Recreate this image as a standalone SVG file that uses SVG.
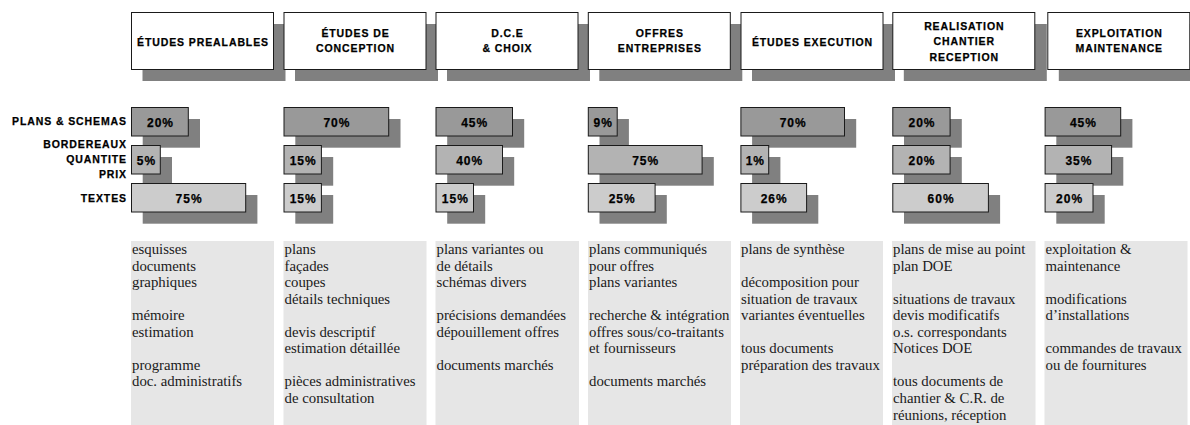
<svg xmlns="http://www.w3.org/2000/svg" width="1190" height="425" viewBox="0 0 1190 425">
<style>
.bg{fill:#ffffff}
.sh{fill:#808080}
.hb{fill:#ffffff;stroke:#1a1a1a;stroke-width:1}
.ht{font-family:"Liberation Sans",Arial,sans-serif;font-weight:bold;font-size:10.5px;letter-spacing:0.9px;fill:#000;stroke:#000;stroke-width:0.25;text-anchor:middle}
.lb{font-family:"Liberation Sans",Arial,sans-serif;font-weight:bold;font-size:10.5px;letter-spacing:0.9px;fill:#000;stroke:#000;stroke-width:0.25;text-anchor:end}
.b1{fill:#999999;stroke:#1a1a1a;stroke-width:1}
.b2{fill:#b3b3b3;stroke:#1a1a1a;stroke-width:1}
.b3{fill:#cccccc;stroke:#1a1a1a;stroke-width:1}
.bt{font-family:"Liberation Sans",Arial,sans-serif;font-weight:bold;font-size:12px;letter-spacing:1px;fill:#000;stroke:#000;stroke-width:0.25;text-anchor:middle}
.tb{fill:#e6e6e6}
.tx{font-family:"Liberation Serif","Times New Roman",serif;font-size:14.8px;fill:#1a1a1a}
</style>
<rect class="bg" x="0" y="0" width="1190" height="425"/>

<!-- header shadows -->
<g id="header-shadows">
<rect class="sh" x="142.5" y="24" width="143" height="57"/>
<rect class="sh" x="295" y="24" width="143" height="57"/>
<rect class="sh" x="447" y="24" width="143" height="57"/>
<rect class="sh" x="599.3" y="24" width="143" height="57"/>
<rect class="sh" x="752" y="24" width="143" height="57"/>
<rect class="sh" x="903.8" y="24" width="143" height="57"/>
<rect class="sh" x="1058.8" y="24" width="143" height="57"/>
</g>

<g id="h1">
<rect class="hb" x="131.5" y="12.5" width="142" height="57"/>
<text class="ht" x="203" y="45.5">ÉTUDES PREALABLES</text>
</g>
<g id="h2">
<rect class="hb" x="284" y="12.5" width="142" height="57"/>
<text class="ht" x="355.5" y="37">ÉTUDES DE</text>
<text class="ht" x="355.5" y="52.3">CONCEPTION</text>
</g>
<g id="h3">
<rect class="hb" x="436" y="12.5" width="142" height="57"/>
<text class="ht" x="507.5" y="37">D.C.E</text>
<text class="ht" x="507.5" y="52.3">&amp; CHOIX</text>
</g>
<g id="h4">
<rect class="hb" x="588.3" y="12.5" width="142" height="57"/>
<text class="ht" x="659.8" y="37">OFFRES</text>
<text class="ht" x="659.8" y="52.3">ENTREPRISES</text>
</g>
<g id="h5">
<rect class="hb" x="741" y="12.5" width="142" height="57"/>
<text class="ht" x="812.5" y="45.5">ÉTUDES EXECUTION</text>
</g>
<g id="h6">
<rect class="hb" x="892.8" y="12.5" width="142" height="57"/>
<text class="ht" x="964.3" y="29.5">REALISATION</text>
<text class="ht" x="964.3" y="45.3">CHANTIER</text>
<text class="ht" x="964.3" y="60.8">RECEPTION</text>
</g>
<g id="h7">
<rect class="hb" x="1047.8" y="12.5" width="142" height="57"/>
<text class="ht" x="1119.3" y="37">EXPLOITATION</text>
<text class="ht" x="1119.3" y="52.3">MAINTENANCE</text>
</g>

<!-- row labels -->
<g id="row-labels">
<text class="lb" x="127" y="125.2">PLANS &amp; SCHEMAS</text>
<text class="lb" x="127" y="147.8">BORDEREAUX</text>
<text class="lb" x="127" y="163.3">QUANTITE</text>
<text class="lb" x="127" y="178.4">PRIX</text>
<text class="lb" x="127" y="202.3">TEXTES</text>
</g>

<!-- bar shadows -->
<g id="bar-shadows">
<rect class="sh" x="142.7" y="119" width="57.3" height="28.7"/>
<rect class="sh" x="142.7" y="157" width="29.3" height="28.7"/>
<rect class="sh" x="142.7" y="195" width="114.7" height="28.7"/>

<rect class="sh" x="295.3" y="119" width="105.2" height="28.7"/>
<rect class="sh" x="295.3" y="157" width="37.9" height="28.7"/>
<rect class="sh" x="295.3" y="195" width="37.9" height="28.7"/>

<rect class="sh" x="447.2" y="119" width="77" height="28.7"/>
<rect class="sh" x="447.2" y="157" width="67" height="28.7"/>
<rect class="sh" x="447.2" y="195" width="38" height="28.7"/>

<rect class="sh" x="599.5" y="119" width="29.4" height="28.7"/>
<rect class="sh" x="599.5" y="157" width="114.3" height="28.7"/>
<rect class="sh" x="599.5" y="195" width="67.3" height="28.7"/>

<rect class="sh" x="752.1" y="119" width="104.1" height="28.7"/>
<rect class="sh" x="752.1" y="157" width="28.3" height="28.7"/>
<rect class="sh" x="752.1" y="195" width="66.2" height="28.7"/>

<rect class="sh" x="904" y="119" width="57.8" height="28.7"/>
<rect class="sh" x="904" y="157" width="57.8" height="28.7"/>
<rect class="sh" x="904" y="195" width="96.1" height="28.7"/>

<rect class="sh" x="1056.3" y="119" width="76.1" height="28.7"/>
<rect class="sh" x="1056.3" y="157" width="67" height="28.7"/>
<rect class="sh" x="1056.3" y="195" width="48.4" height="28.7"/>
</g>

<g id="bars-1">
<rect class="b1" x="131.5" y="107.5" width="56.8" height="28.5"/>
<text class="bt" x="160.5" y="126.8">20%</text>
<rect class="b2" x="131.5" y="145.5" width="28.8" height="28.5"/>
<text class="bt" x="146.4" y="164.8">5%</text>
<rect class="b3" x="131.5" y="183.5" width="114.2" height="28.5"/>
<text class="bt" x="189.1" y="202.8">75%</text>
</g>
<g id="bars-2">
<rect class="b1" x="284" y="107.5" width="104.7" height="28.5"/>
<text class="bt" x="336.9" y="126.8">70%</text>
<rect class="b2" x="284" y="145.5" width="37.4" height="28.5"/>
<text class="bt" x="303.2" y="164.8">15%</text>
<rect class="b3" x="284" y="183.5" width="37.4" height="28.5"/>
<text class="bt" x="303.2" y="202.8">15%</text>
</g>
<g id="bars-3">
<rect class="b1" x="436" y="107.5" width="76.5" height="28.5"/>
<text class="bt" x="474.7" y="126.8">45%</text>
<rect class="b2" x="436" y="145.5" width="66.5" height="28.5"/>
<text class="bt" x="469.7" y="164.8">40%</text>
<rect class="b3" x="436" y="183.5" width="37.5" height="28.5"/>
<text class="bt" x="455.3" y="202.8">15%</text>
</g>
<g id="bars-4">
<rect class="b1" x="588.3" y="107.5" width="28.9" height="28.5"/>
<text class="bt" x="603.2" y="126.8">9%</text>
<rect class="b2" x="588.3" y="145.5" width="113.8" height="28.5"/>
<text class="bt" x="645.7" y="164.8">75%</text>
<rect class="b3" x="588.3" y="183.5" width="66.8" height="28.5"/>
<text class="bt" x="622.2" y="202.8">25%</text>
</g>
<g id="bars-5">
<rect class="b1" x="740.9" y="107.5" width="103.6" height="28.5"/>
<text class="bt" x="793.2" y="126.8">70%</text>
<rect class="b2" x="740.9" y="145.5" width="27.8" height="28.5"/>
<text class="bt" x="755.3" y="164.8">1%</text>
<rect class="b3" x="740.9" y="183.5" width="65.7" height="28.5"/>
<text class="bt" x="774.2" y="202.8">26%</text>
</g>
<g id="bars-6">
<rect class="b1" x="892.8" y="107.5" width="57.3" height="28.5"/>
<text class="bt" x="922" y="126.8">20%</text>
<rect class="b2" x="892.8" y="145.5" width="57.3" height="28.5"/>
<text class="bt" x="922" y="164.8">20%</text>
<rect class="b3" x="892.8" y="183.5" width="95.6" height="28.5"/>
<text class="bt" x="941.1" y="202.8">60%</text>
</g>
<g id="bars-7">
<rect class="b1" x="1045.1" y="107.5" width="75.6" height="28.5"/>
<text class="bt" x="1083.4" y="126.8">45%</text>
<rect class="b2" x="1045.1" y="145.5" width="66.5" height="28.5"/>
<text class="bt" x="1078.9" y="164.8">35%</text>
<rect class="b3" x="1045.1" y="183.5" width="47.9" height="28.5"/>
<text class="bt" x="1069.6" y="202.8">20%</text>
</g>

<!-- description columns -->
<g id="desc-1">
<rect class="tb" x="131" y="241" width="143" height="184"/>
<text class="tx" x="132" y="254">esquisses</text>
<text class="tx" x="132" y="270.55">documents</text>
<text class="tx" x="132" y="287.1">graphiques</text>
<text class="tx" x="132" y="320.2">mémoire</text>
<text class="tx" x="132" y="336.75">estimation</text>
<text class="tx" x="132" y="369.85">programme</text>
<text class="tx" x="132" y="386.4">doc. administratifs</text>
</g>
<g id="desc-2">
<rect class="tb" x="283.5" y="241" width="143" height="184"/>
<text class="tx" x="284.5" y="254">plans</text>
<text class="tx" x="284.5" y="270.55">façades</text>
<text class="tx" x="284.5" y="287.1">coupes</text>
<text class="tx" x="284.5" y="303.65">détails techniques</text>
<text class="tx" x="284.5" y="336.75">devis descriptif</text>
<text class="tx" x="284.5" y="353.3">estimation détaillée</text>
<text class="tx" x="284.5" y="386.4">pièces administratives</text>
<text class="tx" x="284.5" y="402.95">de consultation</text>
</g>
<g id="desc-3">
<rect class="tb" x="435.5" y="241" width="143.5" height="184"/>
<text class="tx" x="436.5" y="254">plans variantes ou</text>
<text class="tx" x="436.5" y="270.55">de détails</text>
<text class="tx" x="436.5" y="287.1">schémas divers</text>
<text class="tx" x="436.5" y="320.2">précisions demandées</text>
<text class="tx" x="436.5" y="336.75">dépouillement offres</text>
<text class="tx" x="436.5" y="369.85">documents marchés</text>
</g>
<g id="desc-4">
<rect class="tb" x="588" y="241" width="143" height="184"/>
<text class="tx" x="589" y="254">plans communiqués</text>
<text class="tx" x="589" y="270.55">pour offres</text>
<text class="tx" x="589" y="287.1">plans variantes</text>
<text class="tx" x="589" y="320.2">recherche &amp; intégration</text>
<text class="tx" x="589" y="336.75">offres sous/co-traitants</text>
<text class="tx" x="589" y="353.3">et fournisseurs</text>
<text class="tx" x="589" y="386.4">documents marchés</text>
</g>
<g id="desc-5">
<rect class="tb" x="740" y="241" width="143" height="184"/>
<text class="tx" x="741" y="254">plans de synthèse</text>
<text class="tx" x="741" y="287.1">décomposition pour</text>
<text class="tx" x="741" y="303.65">situation de travaux</text>
<text class="tx" x="741" y="320.2">variantes éventuelles</text>
<text class="tx" x="741" y="353.3">tous documents</text>
<text class="tx" x="741" y="369.85">préparation des travaux</text>
</g>
<g id="desc-6">
<rect class="tb" x="892" y="241" width="143.5" height="184"/>
<text class="tx" x="893" y="254">plans de mise au point</text>
<text class="tx" x="893" y="270.55">plan DOE</text>
<text class="tx" x="893" y="303.65">situations de travaux</text>
<text class="tx" x="893" y="320.2">devis modificatifs</text>
<text class="tx" x="893" y="336.75">o.s. correspondants</text>
<text class="tx" x="893" y="353.3">Notices DOE</text>
<text class="tx" x="893" y="386.4">tous documents de</text>
<text class="tx" x="893" y="402.95">chantier &amp; C.R. de</text>
<text class="tx" x="893" y="419.5">réunions, réception</text>
</g>
<g id="desc-7">
<rect class="tb" x="1044.5" y="241" width="143" height="184"/>
<text class="tx" x="1045.5" y="254">exploitation &amp;</text>
<text class="tx" x="1045.5" y="270.55">maintenance</text>
<text class="tx" x="1045.5" y="303.65">modifications</text>
<text class="tx" x="1045.5" y="320.2">d’installations</text>
<text class="tx" x="1045.5" y="353.3">commandes de travaux</text>
<text class="tx" x="1045.5" y="369.85">ou de fournitures</text>
</g>
</svg>
